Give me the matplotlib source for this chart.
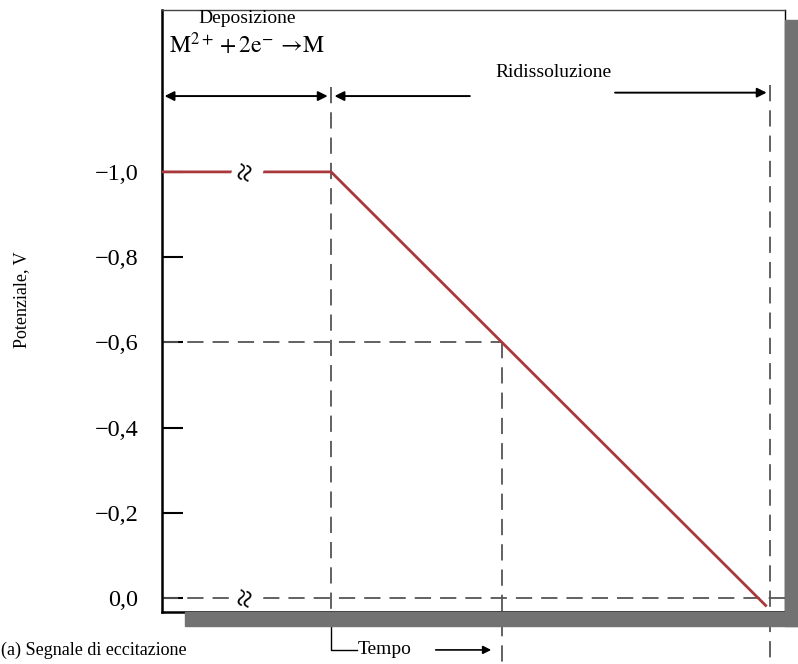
import matplotlib
matplotlib.use("Agg")
from matplotlib import pyplot as plt
from matplotlib.patches import Rectangle

# Dati (tempo in unità arbitrarie, potenziale in V)
t_segnale = [-0.396, 0.0, 1.0, 1.02]
v_segnale = [-1.0, -1.0, 0.0, 0.02]
tick_valori = [-1.0, -0.8, -0.6, -0.4, -0.2, 0.0]
tick_etichette = ["−1,0", "−0,8", "−0,6", "−0,4", "−0,2", "0,0"]
t_fine_dep = 0.0
t_medio = 0.4
v_medio = -0.6
t_fine = 1.028

plt.rcParams['font.family'] = ['Liberation Serif', 'DejaVu Serif']

fig = plt.figure(figsize=(7.98, 6.64), dpi=100)
# ombra grigia del riquadro
fig.patches.append(Rectangle((185/798, 38/664), 613/798, 14/664, transform=fig.transFigure,
                             color="#727272", zorder=0))
fig.patches.append(Rectangle((785/798, 38/664), 13/798, 606/664, transform=fig.transFigure,
                             color="#727272", zorder=0))

ax = fig.add_axes([162/798, 52/664, 623/798, 602/664])
ax.set_xlim(-0.396, 1.063)
ax.set_ylim(0.033, -1.38)

rosso = "#a8383c"
ax.plot(t_segnale, v_segnale, color=rosso, lw=2.0, solid_capstyle="butt", zorder=3, clip_on=False)

tratt = dict(color="#555555", lw=1.3, ls=(0, (9, 5)))
# orizzontali tratteggiate
ax.plot([-0.396, t_medio], [v_medio, v_medio], **tratt)
ax.plot([-0.396, 1.063], [0.0, 0.0], **tratt)
# verticali tratteggiate
ax.plot([t_fine_dep, t_fine_dep], [-1.2, 0.033], clip_on=False, **tratt)
ax.plot([t_medio, t_medio], [v_medio, 0.16], clip_on=False, **tratt)
ax.plot([t_fine, t_fine], [-1.205, 0.16], clip_on=False, **tratt)

# simboli di interruzione
for v in [-1.0, 0.0]:
    ax.text(-0.196, v, "≈", rotation=75, ha="center", va="center", fontsize=24,
            bbox=dict(boxstyle="square,pad=0.0", fc="white", ec="none"), zorder=4)

# frecce in alto
ax.annotate("", xy=(-0.39, -1.178), xytext=(-0.008, -1.178),
            arrowprops=dict(arrowstyle="<|-|>", color="black", lw=1.4, mutation_scale=14,
                            shrinkA=0, shrinkB=0))
freccia = dict(arrowstyle="-|>", color="black", lw=1.4, mutation_scale=14, shrinkA=0, shrinkB=0)
ax.annotate("", xy=(0.008, -1.178), xytext=(0.325, -1.178), arrowprops=freccia)
ax.annotate("", xy=(t_fine - 0.008, -1.186), xytext=(0.665, -1.186), arrowprops=freccia)

ax.text(-0.196, -1.361, "Deposizione", ha="center", va="center", fontsize=14)
ax.text(-0.196, -1.298, r"$\mathrm{M}^{2+} + 2\mathrm{e}^{-}\,\rightarrow\!\mathrm{M}$",
        ha="center", va="center", fontsize=17, math_fontfamily="stix")
ax.text(0.52, -1.234, "Ridissoluzione", ha="center", va="center", fontsize=14)

# staffa "Tempo"
ax.plot([t_fine_dep, t_fine_dep, 0.06], [0.033, 0.122, 0.122], color="black", lw=1.0, clip_on=False)
ax.text(0.063, 0.122, "Tempo", ha="left", va="center", fontsize=14)
ax.annotate("", xy=(0.375, 0.122), xytext=(0.245, 0.122), annotation_clip=False,
            arrowprops=dict(arrowstyle="-|>", color="black", lw=1.2, mutation_scale=12,
                            shrinkA=0, shrinkB=0))

ax.set_yticks(tick_valori)
ax.set_yticklabels(tick_etichette, fontsize=17.5)
ax.tick_params(axis="y", direction="in", length=15, width=1.5, pad=17)
ax.set_xticks([])
for lato in ["left", "bottom"]:
    ax.spines[lato].set_linewidth(1.8)
for lato in ["top", "right"]:
    ax.spines[lato].set_linewidth(1.0)
ax.spines["top"].set_color("#444444")

fig.text(22/798, 0.548, "Potenziale, V", rotation=90, ha="center", va="center", fontsize=13)
fig.text(1/798, 14/664, "(a) Segnale di eccitazione", ha="left", va="center", fontsize=13)

fig.savefig("out.png", dpi=100)
